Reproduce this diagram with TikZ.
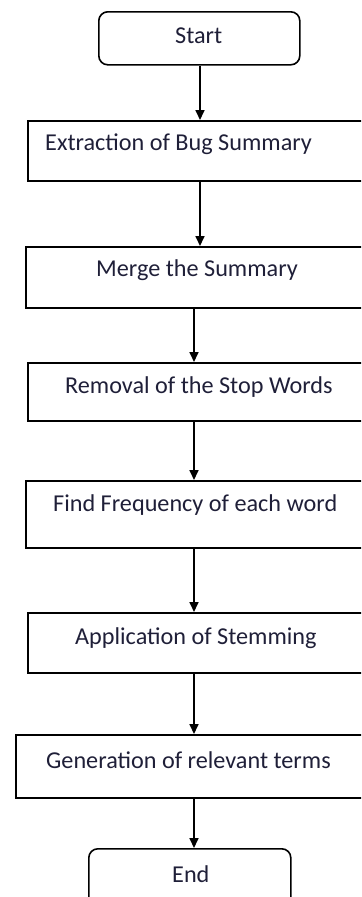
\documentclass[tikz,border=0pt]{standalone}
\usepackage{fontspec}
\setmainfont{Carlito}
\usetikzlibrary{arrows.meta}
\definecolor{inkblue}{rgb}{0.12,0.12,0.22}
\tikzset{
  stepbox/.style={draw=black, line width=1.6bp, rectangle, anchor=north west, inner sep=0pt},
  termbox/.style={stepbox, rounded corners=9bp},
  steptext/.style={anchor=west, inner sep=0pt, text=inkblue, font=\fontsize{24.3}{28}\selectfont},
  flow/.style={draw=black, line width=1.7bp, -{Triangle[width=9bp,length=10bp]}}
}
\begin{document}
\begin{tikzpicture}[x=1bp,y=-1bp]
\useasboundingbox (0,0) rectangle (361,897);
\clip (0,0) rectangle (361,897);

% boxes
\node[termbox, minimum width=201bp, minimum height=53bp] (start) at (98,11) {};
\node[stepbox, minimum width=360bp, minimum height=60bp] (extract) at (27,120) {};
\node[stepbox, minimum width=360bp, minimum height=61bp] (merge) at (25,246) {};
\node[stepbox, minimum width=360bp, minimum height=58bp] (removal) at (27,362) {};
\node[stepbox, minimum width=360bp, minimum height=67bp] (freq) at (25,480) {};
\node[stepbox, minimum width=360bp, minimum height=60bp] (stem) at (27,612) {};
\node[stepbox, minimum width=360bp, minimum height=63bp] (terms) at (15,734) {};
\node[termbox, minimum width=202bp, minimum height=70bp] (end) at (88,848) {};

% texts
\node[steptext] (starttxt) at (175,36) {Start};
\node[steptext] (extracttxt) at (45,144) {Extraction of Bug Summary};
\node[steptext] (mergetxt) at (96,270) {Merge the Summary};
\node[steptext] (removaltxt) at (65,387) {Removal of the Stop Words};
\node[steptext] (freqtxt) at (53,505) {Find Frequency of each word};
\node[steptext] (stemtxt) at (75,638) {Application of Stemming};
\node[steptext] (termstxt) at (46,760) {Generation of relevant terms};
\node[steptext] (endtxt) at (172,874) {End};

% arrows
\coordinate (spinetop) at (200,0);
\coordinate (spine) at (194,0);
\draw[flow] (start.south -| spinetop) -- (extract.north -| spinetop);
\draw[flow] (extract.south -| spinetop) -- (merge.north -| spinetop);
\draw[flow] (merge.south -| spine) -- (removal.north -| spine);
\draw[flow] (removal.south -| spine) -- (freq.north -| spine);
\draw[flow] (freq.south -| spine) -- (stem.north -| spine);
\draw[flow] (stem.south -| spine) -- (terms.north -| spine);
\draw[flow] (terms.south -| spine) -- (end.north -| spine);
\end{tikzpicture}
\end{document}
